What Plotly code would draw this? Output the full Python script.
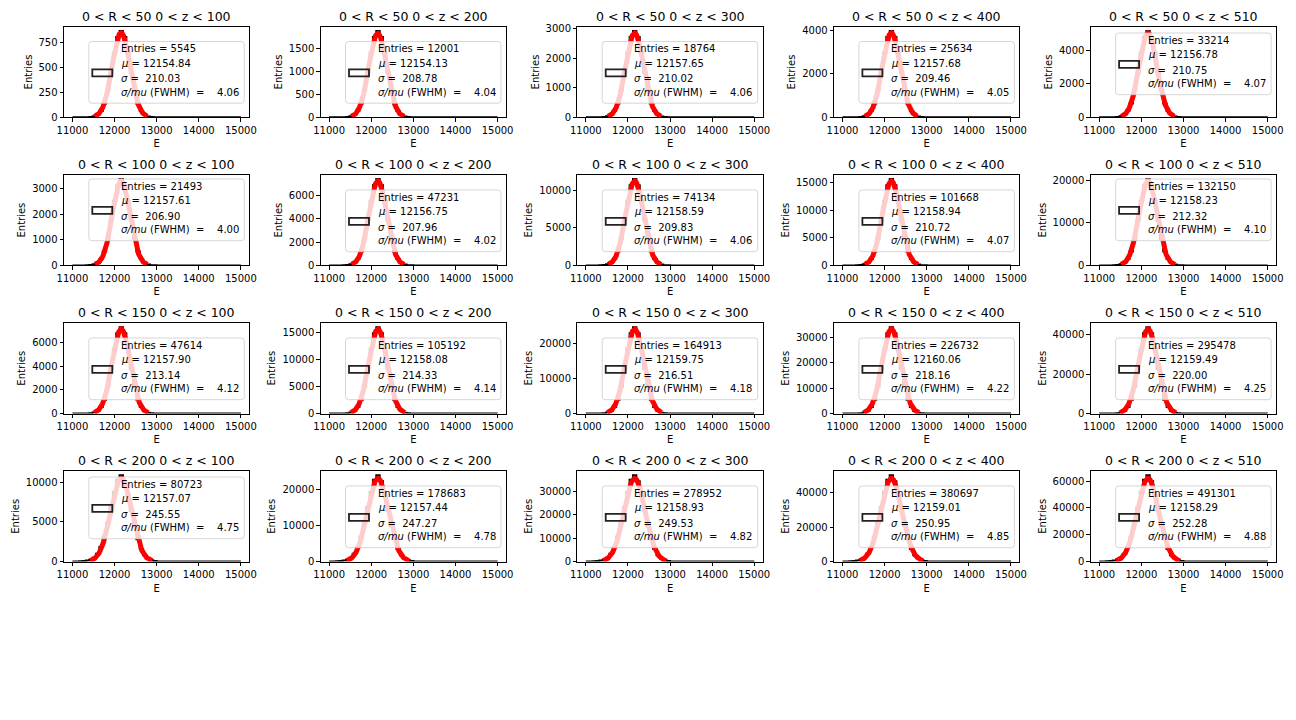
import numpy as np
import plotly.graph_objects as go

# ---------------- data ----------------
r_labels = ["0 < R < 50", "0 < R < 100", "0 < R < 150", "0 < R < 200"]
z_labels = ["0 < z < 100", "0 < z < 200", "0 < z < 300", "0 < z < 400", "0 < z < 510"]

entries = [
    [5545, 12001, 18764, 25634, 33214],
    [21493, 47231, 74134, 101668, 132150],
    [47614, 105192, 164913, 226732, 295478],
    [80723, 178683, 278952, 380697, 491301],
]
mus = [
    [12154.84, 12154.13, 12157.65, 12157.68, 12156.78],
    [12157.61, 12156.75, 12158.59, 12158.94, 12158.23],
    [12157.90, 12158.08, 12159.75, 12160.06, 12159.49],
    [12157.07, 12157.44, 12158.93, 12159.01, 12158.29],
]
sigmas = [
    [210.03, 208.78, 210.02, 209.46, 210.75],
    [206.90, 207.96, 209.83, 210.72, 212.32],
    [213.14, 214.33, 216.51, 218.16, 220.00],
    [245.55, 247.27, 249.53, 250.95, 252.28],
]
resolutions = [
    [4.06, 4.04, 4.06, 4.05, 4.07],
    [4.00, 4.02, 4.06, 4.07, 4.10],
    [4.12, 4.14, 4.18, 4.22, 4.25],
    [4.75, 4.78, 4.82, 4.85, 4.88],
]
# fitted gaussian amplitudes
fit_amp = [
    [845, 1835, 2850, 3905, 5030],
    [3315, 7250, 11280, 15400, 19870],
    [7130, 15670, 24310, 33170, 42870],
    [10490, 23070, 35680, 48420, 62160],
]
# histogram peak-bin counts
hist_peak = [
    [860, 1880, 2910, 3980, 5130],
    [3380, 7390, 11500, 15700, 20250],
    [7270, 15980, 24800, 33840, 43730],
    [10850, 23870, 36930, 50100, 64300],
]
# relative bin profile around the peak bin (bin width 80, peak bin centre 12160)
profile_narrow = [0.001, 0.004, 0.012, 0.03, 0.075, 0.16, 0.31, 0.52, 0.75, 0.93, 1.0,
                  0.93, 0.75, 0.52, 0.31, 0.16, 0.074, 0.029, 0.01, 0.003, 0.001]
profile_wide = [0.004, 0.007, 0.012, 0.022, 0.045, 0.09, 0.17, 0.29, 0.45, 0.63, 0.81, 0.95, 1.0,
                0.93, 0.78, 0.59, 0.41, 0.26, 0.145, 0.075, 0.035, 0.015, 0.006, 0.002, 0.001]
row_profiles = [profile_narrow, profile_narrow, profile_narrow, profile_wide]

bin_lo, bin_hi, bin_w = 11000, 15000, 80
peak_center = 12160

y_ticks = [
    [[0, 250, 500, 750], [0, 500, 1000, 1500], [0, 1000, 2000, 3000], [0, 2000, 4000], [0, 2000, 4000]],
    [[0, 1000, 2000, 3000], [0, 2000, 4000, 6000], [0, 5000, 10000], [0, 5000, 10000, 15000], [0, 10000, 20000]],
    [[0, 2000, 4000, 6000], [0, 5000, 10000, 15000], [0, 10000, 20000], [0, 10000, 20000, 30000], [0, 20000, 40000]],
    [[0, 5000, 10000], [0, 10000, 20000], [0, 10000, 20000, 30000], [0, 20000, 40000], [0, 20000, 40000, 60000]],
]
x_ticks = [11000, 12000, 13000, 14000, 15000]

# legend box top positions (px)
legend_top = [
    [41.5, 41.5, 41.5, 41.5, 33],
    [179, 190, 190, 190, 179],
    [338, 338, 338, 338, 338],
    [477, 486, 486, 486, 486],
]

# ---------------- layout geometry ----------------
W, H = 1296, 720
col_left = [64.0 + 256.7 * c for c in range(5)]
ax_w = 185.3
row_top = [26.7 + 148.1 * r for r in range(4)]
ax_h = 90.6
FONT = "DejaVu Sans"


def X(px):
    return px / W


def Y(py):
    return 1 - py / H


fig = go.Figure()
shapes = []
annotations = []
edges = np.arange(bin_lo, bin_hi + bin_w, bin_w)
centers = edges[:-1] + bin_w / 2

for r in range(4):
    for c in range(5):
        i = r * 5 + c
        xa = "x" if i == 0 else f"x{i + 1}"
        ya = "y" if i == 0 else f"y{i + 1}"
        xkey = "xaxis" if i == 0 else f"xaxis{i + 1}"
        ykey = "yaxis" if i == 0 else f"yaxis{i + 1}"

        # histogram counts
        prof = row_profiles[r]
        half = len(prof) // 2
        counts = np.zeros(len(centers))
        for k, p in enumerate(prof):
            cen = peak_center + (k - half) * bin_w
            j = int(round((cen - bin_lo - bin_w / 2) / bin_w))
            if 0 <= j < len(counts):
                counts[j] = round(p * hist_peak[r][c])
        hx = [edges[0]] + list(edges) + [edges[-1]]
        hy = [0] + list(counts) + [counts[-1], 0]
        fig.add_trace(go.Scatter(x=hx, y=hy, mode="lines", line=dict(color="black", width=2, shape="hv"),
                                 xaxis=xa, yaxis=ya, showlegend=False, hoverinfo="skip"))

        # fit curve over mu +- 3 sigma
        mu, sg = mus[r][c], sigmas[r][c]
        fx = np.linspace(mu - 3 * sg, mu + 3 * sg, 200)
        fy = fit_amp[r][c] * np.exp(-0.5 * ((fx - mu) / sg) ** 2)
        fig.add_trace(go.Scatter(x=fx, y=fy, mode="lines", line=dict(color="red", width=5),
                                 xaxis=xa, yaxis=ya, showlegend=False, hoverinfo="skip"))

        L, T = col_left[c], row_top[r]
        R, B = L + ax_w, T + ax_h
        ymax = 1.05 * max(hist_peak[r][c], fit_amp[r][c])
        fig.update_layout({
            xkey: dict(domain=[X(L), X(R)], anchor=ya, range=[10800, 15200], automargin=False,
                       tickvals=x_ticks, ticktext=[str(t) for t in x_ticks],
                       ticks="outside", ticklen=3.5, tickwidth=0.8, tickcolor="black",
                       showline=True, mirror=True, linecolor="black", linewidth=0.8,
                       showgrid=False, zeroline=False,
                       tickfont=dict(family=FONT, size=10, color="black"),
                       title=dict(text="E", font=dict(family=FONT, size=10, color="black"), standoff=5)),
            ykey: dict(domain=[Y(B), Y(T)], anchor=xa, range=[0, ymax], automargin=False,
                       tickvals=y_ticks[r][c], ticktext=[str(t) for t in y_ticks[r][c]],
                       ticks="outside", ticklen=3.5, tickwidth=0.8, tickcolor="black",
                       showline=True, mirror=True, linecolor="black", linewidth=0.8,
                       showgrid=False, zeroline=False,
                       tickfont=dict(family=FONT, size=10, color="black"),
                       title=dict(text="Entries", font=dict(family=FONT, size=10, color="black"), standoff=4)),
        })

        # subplot title
        annotations.append(dict(text=f"{r_labels[r]} {z_labels[c]}", xref="paper", yref="paper",
                                x=X((L + R) / 2), y=Y(T - 10), xanchor="center", yanchor="middle",
                                showarrow=False, font=dict(family=FONT, size=12.5, color="black")))

        # legend box
        lr = R - 5
        ll = lr - 155.5
        lt = legend_top[r][c]
        lb = lt + 61.7
        rx, ry = 3 / W, 3 / H
        x0, x1, y0, y1 = X(ll), X(lr), Y(lb), Y(lt)
        path = (f"M {x0 + rx},{y1} L {x1 - rx},{y1} Q {x1},{y1} {x1},{y1 - ry} "
                f"L {x1},{y0 + ry} Q {x1},{y0} {x1 - rx},{y0} L {x0 + rx},{y0} "
                f"Q {x0},{y0} {x0},{y0 + ry} L {x0},{y1 - ry} Q {x0},{y1} {x0 + rx},{y1} Z")
        shapes.append(dict(type="path", path=path, xref="paper", yref="paper", layer="above",
                           fillcolor="rgba(255,255,255,0.8)", line=dict(color="rgba(204,204,204,0.8)", width=1)))
        # handle
        shapes.append(dict(type="rect", xref="paper", yref="paper", layer="above",
                           x0=X(ll + 3.5), x1=X(ll + 23.5), y0=Y(lt + 31.3 + 3.5), y1=Y(lt + 31.3 - 3.5),
                           fillcolor="rgba(0,0,0,0)", line=dict(color="#222222", width=1.8)))
        nb = "\u00a0"
        lines = [
            f"Entries = {entries[r][c]}",
            f"<i>μ</i> = {mus[r][c]:.2f}",
            f"<i>σ</i> ={nb}{nb}{sigmas[r][c]:.2f}",
            f"<i>σ/mu</i> (FWHM){nb}{nb}={nb}{nb}{nb}{nb}{resolutions[r][c]:.2f}",
        ]
        offs = [7.3, 21.7, 37.3, 50.7]
        for txt, off in zip(lines, offs):
            annotations.append(dict(text=txt, xref="paper", yref="paper", x=X(ll + 30.0), y=Y(lt + off),
                                    xanchor="left", yanchor="middle", showarrow=False,
                                    font=dict(family=FONT, size=10, color="black")))

fig.update_layout(width=W, height=H, margin=dict(l=0, r=0, t=0, b=0),
                  paper_bgcolor="white", plot_bgcolor="white",
                  shapes=shapes, annotations=annotations, showlegend=False,
                  font=dict(family=FONT, size=10, color="black"))
fig.write_html("out.html")
